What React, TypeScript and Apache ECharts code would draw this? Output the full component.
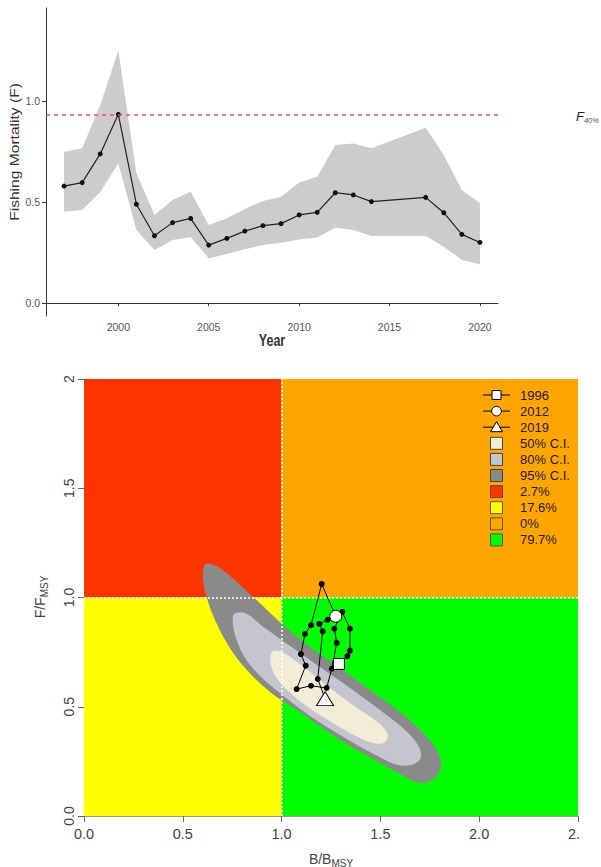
import React, { useEffect, useRef } from "react";
import * as echarts from "echarts";

// ---------- Top chart data: Fishing mortality ----------
const years = [1997, 1998, 1999, 2000, 2001, 2002, 2003, 2004, 2005, 2006, 2007, 2008, 2009, 2010, 2011, 2012, 2013, 2014, 2017, 2018, 2019, 2020];
const fValues = [0.579, 0.596, 0.738, 0.934, 0.489, 0.333, 0.398, 0.419, 0.287, 0.32, 0.356, 0.383, 0.393, 0.436, 0.449, 0.546, 0.535, 0.502, 0.523, 0.447, 0.34, 0.3];
const fUpper = [0.749, 0.766, 0.98, 1.25, 0.642, 0.436, 0.51, 0.551, 0.386, 0.42, 0.465, 0.505, 0.526, 0.596, 0.625, 0.782, 0.79, 0.766, 0.868, 0.733, 0.559, 0.494];
const fLower = [0.452, 0.46, 0.55, 0.692, 0.361, 0.262, 0.312, 0.327, 0.221, 0.243, 0.266, 0.287, 0.299, 0.315, 0.325, 0.373, 0.361, 0.332, 0.332, 0.279, 0.213, 0.192];
const f40 = 0.934;
const yearTicks = [2000, 2005, 2010, 2015, 2020];
const fTicks = [0, 0.5, 1.0];

// ---------- Bottom chart data: Kobe plot ----------
const trajB = [1.29, 1.333, 1.346, 1.346, 1.307, 1.267, 1.279, 1.254, 1.228, 1.149, 1.076, 1.122, 1.098, 1.118, 1.149, 1.203, 1.274, 1.233, 1.191, 1.208, 1.183, 1.22];
const trajF = [0.696, 0.732, 0.757, 0.857, 0.934, 0.857, 0.792, 0.674, 0.586, 0.596, 0.581, 0.688, 0.741, 0.833, 0.873, 1.062, 0.914, 0.898, 0.879, 0.845, 0.627, 0.537];
const markerYears = ["1996", "2012", "2019"];
const markerIndex = [0, 16, 21];

const ci95 = [[0.617, 1.153], [0.688, 1.135], [0.85, 1.007], [1.002, 0.879], [1.144, 0.773], [1.296, 0.677], [1.447, 0.577], [1.599, 0.476], [1.726, 0.371], [1.791, 0.293], [1.807, 0.229], [1.776, 0.174], [1.7, 0.151], [1.599, 0.192], [1.447, 0.27], [1.296, 0.348], [1.093, 0.476], [0.941, 0.568], [0.815, 0.677], [0.729, 0.783], [0.663, 0.897], [0.622, 0.998], [0.602, 1.089]];
const ci80 = [[0.759, 0.924], [0.815, 0.929], [0.916, 0.86], [1.043, 0.778], [1.194, 0.682], [1.346, 0.586], [1.498, 0.485], [1.625, 0.394], [1.69, 0.325], [1.705, 0.27], [1.67, 0.238], [1.589, 0.233], [1.447, 0.293], [1.296, 0.371], [1.144, 0.458], [1.017, 0.545], [0.901, 0.632], [0.815, 0.723], [0.769, 0.815], [0.754, 0.879]];
const ci50 = [[0.951, 0.751], [1.002, 0.751], [1.093, 0.696], [1.245, 0.586], [1.397, 0.485], [1.498, 0.421], [1.538, 0.371], [1.518, 0.334], [1.447, 0.339], [1.346, 0.38], [1.194, 0.462], [1.068, 0.545], [0.982, 0.622], [0.946, 0.691]];
const ciLabels = ["50% C.I.", "80% C.I.", "95% C.I."];

// quadrant bounds [B0, F0, B1, F1] in legend order: red, yellow, orange, green
const quadrantBounds = [[0, 1, 1, 2], [0, 0, 1, 1], [1, 1, 2.5, 2], [1, 0, 2.5, 1]];
const quadrantPct = ["2.7%", "17.6%", "0%", "79.7%"];
const bRef = 1;
const fRef = 1;

// ---------- styles ----------
const FONT = "'Liberation Sans', Arial, Helvetica, sans-serif";
const quadColors = ["#FF3300", "#FFFF00", "#FFA500", "#00FF00"];
const ciColors = ["#F3EDD8", "#C4C5CE", "#8A8A8A"];

export default function App() {
  const ref = useRef<HTMLDivElement>(null);

  useEffect(() => {
    document.body.style.margin = "0";
    if (!ref.current) return;
    const chart = echarts.init(ref.current, null, { renderer: "svg" });

    const polygonSeries = (pts: number[][], color: string, z: number) => ({
      type: "custom",
      xAxisIndex: 1,
      yAxisIndex: 1,
      z,
      silent: true,
      data: pts,
      renderItem: (params: any, api: any) => {
        if (params.dataIndex !== 0) return null;
        const points = pts.map((p) => api.coord(p));
        return { type: "polygon", shape: { points, smooth: 0.35 }, style: { fill: color } };
      },
    });

    // legend graphics
    const legendX = 496.5;
    const legendTextX = 520;
    const rowY = (i: number) => 395 + i * 16.1;
    const legend: any[] = [];
    const textEl = (label: string, y: number) => ({
      type: "text",
      x: legendTextX,
      y,
      z: 50,
      style: { text: label, fontSize: 13, fontFamily: FONT, fill: "#1a1a1a", align: "left", verticalAlign: "middle", textAlign: "left", textVerticalAlign: "middle" },
    });
    markerYears.forEach((yr, i) => {
      const y = rowY(i);
      legend.push({ type: "line", z: 50, shape: { x1: 483, y1: y, x2: 510, y2: y }, style: { stroke: "#000", lineWidth: 1 } });
      if (i === 0) legend.push({ type: "rect", z: 51, shape: { x: legendX - 4.5, y: y - 4.5, width: 9, height: 9 }, style: { fill: "#fff", stroke: "#000", lineWidth: 1 } });
      if (i === 1) legend.push({ type: "circle", z: 51, shape: { cx: legendX, cy: y, r: 4.8 }, style: { fill: "#fff", stroke: "#000", lineWidth: 1 } });
      if (i === 2) legend.push({ type: "polygon", z: 51, shape: { points: [[legendX, y - 5.5], [legendX - 6, y + 4.5], [legendX + 6, y + 4.5]] }, style: { fill: "#fff", stroke: "#000", lineWidth: 1 } });
      legend.push(textEl(yr, y));
    });
    ciLabels.forEach((lab, i) => {
      const y = rowY(3 + i);
      legend.push({ type: "rect", z: 50, shape: { x: legendX - 6, y: y - 6, width: 12, height: 12 }, style: { fill: ciColors[i], stroke: "#444", lineWidth: 1 } });
      legend.push(textEl(lab, y));
    });
    quadrantPct.forEach((lab, i) => {
      const y = rowY(6 + i);
      legend.push({ type: "rect", z: 50, shape: { x: legendX - 6, y: y - 6, width: 12, height: 12 }, style: { fill: quadColors[i], stroke: "#555", lineWidth: 1 } });
      legend.push(textEl(lab, y));
    });

    const option: any = {
      animation: false,
      textStyle: { fontFamily: FONT },
      grid: [
        { left: 46, top: 8, width: 452, height: 308 },
        { left: 84, top: 379, width: 494, height: 437 },
      ],
      xAxis: [
        {
          gridIndex: 0,
          type: "value",
          min: 1996,
          max: 2021,
          splitLine: { show: false },
          axisLine: { lineStyle: { color: "#333", width: 1 } },
          axisTick: { customValues: yearTicks, length: 3, lineStyle: { color: "#333" } },
          axisLabel: { customValues: yearTicks, fontSize: 10.5, color: "#555", margin: 5, formatter: (v: number) => String(v) },
        },
        {
          gridIndex: 1,
          type: "value",
          min: 0,
          max: 2.5,
          interval: 0.5,
          splitLine: { show: false },
          axisLine: { lineStyle: { color: "#999", width: 1 } },
          axisTick: { length: 6, lineStyle: { color: "#666" } },
          axisLabel: { fontSize: 14.5, color: "#444", margin: 10, formatter: (v: number) => v.toFixed(1) },
        },
      ],
      yAxis: [
        {
          gridIndex: 0,
          type: "value",
          min: -0.064,
          max: 1.46,
          splitLine: { show: false },
          axisLine: { show: true, lineStyle: { color: "#333", width: 1 } },
          axisTick: { show: true, customValues: fTicks, length: 4, lineStyle: { color: "#333" } },
          axisLabel: { customValues: fTicks, fontSize: 10.5, color: "#555", margin: 6, formatter: (v: number) => v.toFixed(1) },
        },
        {
          gridIndex: 1,
          type: "value",
          min: 0,
          max: 2,
          interval: 0.5,
          splitLine: { show: false },
          axisLine: { show: true, lineStyle: { color: "#999", width: 1 } },
          axisTick: { show: true, length: 6, lineStyle: { color: "#666" } },
          axisLabel: { fontSize: 14, color: "#444", margin: 8, rotate: 90, formatter: (v: number) => (v === 2 ? "2" : v.toFixed(1)) },
        },
      ],
      series: [
        // top: CI band
        {
          type: "custom",
          xAxisIndex: 0,
          yAxisIndex: 0,
          z: 1,
          silent: true,
          data: years,
          renderItem: (params: any, api: any) => {
            if (params.dataIndex !== 0) return null;
            const up = years.map((y, i) => api.coord([y, fUpper[i]]));
            const lo = years.map((y, i) => api.coord([y, fLower[i]])).reverse();
            return { type: "polygon", shape: { points: up.concat(lo) }, style: { fill: "#CCCCCC" } };
          },
        },
        // top: F line
        {
          type: "line",
          xAxisIndex: 0,
          yAxisIndex: 0,
          z: 3,
          data: years.map((y, i) => [y, fValues[i]]),
          symbol: "circle",
          symbolSize: 5,
          itemStyle: { color: "#111" },
          lineStyle: { color: "#222", width: 1.2 },
          markLine: {
            silent: true,
            symbol: "none",
            label: { show: false },
            lineStyle: { color: "#E8516B", type: [4, 4], width: 1.5 },
            data: [{ yAxis: f40 }],
          },
        },
        // bottom: quadrants
        {
          type: "custom",
          xAxisIndex: 1,
          yAxisIndex: 1,
          z: 1,
          silent: true,
          data: quadrantBounds,
          renderItem: (params: any, api: any) => {
            const p0 = api.coord([api.value(0), api.value(3)]);
            const p1 = api.coord([api.value(2), api.value(1)]);
            return {
              type: "rect",
              shape: { x: p0[0], y: p0[1], width: p1[0] - p0[0], height: p1[1] - p0[1] },
              style: { fill: quadColors[params.dataIndex] },
            };
          },
          markLine: {
            silent: true,
            symbol: "none",
            label: { show: false },
            lineStyle: { color: "#FFFFFF", type: [2, 2], width: 1.5 },
            data: [{ xAxis: bRef }, { yAxis: fRef }],
          },
        },
        polygonSeries(ci95, ciColors[2], 2),
        polygonSeries(ci80, ciColors[1], 3),
        polygonSeries(ci50, ciColors[0], 4),
        // trajectory
        {
          type: "line",
          xAxisIndex: 1,
          yAxisIndex: 1,
          z: 5,
          data: trajB.map((b, i) => [b, trajF[i]]),
          symbol: "circle",
          symbolSize: 6,
          itemStyle: { color: "#000" },
          lineStyle: { color: "#000", width: 1 },
        },
        // start / highlight / end markers
        {
          type: "scatter",
          xAxisIndex: 1,
          yAxisIndex: 1,
          z: 6,
          itemStyle: { color: "#fff", borderColor: "#000", borderWidth: 1, opacity: 1 },
          data: markerIndex.map((idx, k) => ({
            value: [trajB[idx], trajF[idx]],
            symbol: k === 0 ? "rect" : k === 1 ? "circle" : "triangle",
            symbolSize: k === 0 ? 11 : k === 1 ? 12 : [17, 14],
          })),
        },
      ],
      graphic: [
        {
          type: "text",
          x: 15,
          y: 152,
          rotation: Math.PI / 2,
          scaleX: 1.3,
          style: { text: "Fishing Mortality (F)", fontSize: 12, fontFamily: FONT, fill: "#333", align: "center", verticalAlign: "middle", textAlign: "center", textVerticalAlign: "middle" },
        },
        {
          type: "text",
          x: 272,
          y: 340,
          scaleY: 1.25,
          style: { text: "Year", fontSize: 12.5, fontWeight: "bold", fontFamily: FONT, fill: "#333", align: "center", verticalAlign: "middle", textAlign: "center", textVerticalAlign: "middle" },
        },
        {
          type: "text",
          x: 576,
          y: 116,
          style: {
            text: "{f|F}{s|40%}",
            fontFamily: FONT,
            align: "left",
            verticalAlign: "middle",
            textAlign: "left",
            textVerticalAlign: "middle",
            rich: {
              f: { fontSize: 13, fontStyle: "italic", fill: "#222", lineHeight: 16, verticalAlign: "middle", fontFamily: FONT },
              s: { fontSize: 7.5, fontStyle: "italic", fill: "#555", lineHeight: 9, verticalAlign: "bottom", fontFamily: FONT },
            },
          },
        },
        {
          type: "text",
          x: 40,
          y: 597,
          rotation: Math.PI / 2,
          style: {
            text: "{a|F/F}{b|MSY}",
            fontFamily: FONT,
            align: "center",
            verticalAlign: "middle",
            textAlign: "center",
            textVerticalAlign: "middle",
            rich: {
              a: { fontSize: 14, fill: "#444", lineHeight: 18, verticalAlign: "middle", fontFamily: FONT },
              b: { fontSize: 10, fill: "#444", lineHeight: 10, verticalAlign: "bottom", fontFamily: FONT },
            },
          },
        },
        {
          type: "text",
          x: 331,
          y: 859,
          style: {
            text: "{a|B/B}{b|MSY}",
            fontFamily: FONT,
            align: "center",
            verticalAlign: "middle",
            textAlign: "center",
            textVerticalAlign: "middle",
            rich: {
              a: { fontSize: 14, fill: "#444", lineHeight: 18, verticalAlign: "middle", fontFamily: FONT },
              b: { fontSize: 10, fill: "#444", lineHeight: 10, verticalAlign: "bottom", fontFamily: FONT },
            },
          },
        },
        ...legend,
        {
          type: "rect",
          z: 100,
          shape: { x: 579, y: 350, width: 30, height: 520 },
          style: { fill: "#FFFFFF" },
        },
      ],
    };

    chart.setOption(option);
    return () => chart.dispose();
  }, []);

  return <div ref={ref} style={{ width: 601, height: 867 }} />;
}
